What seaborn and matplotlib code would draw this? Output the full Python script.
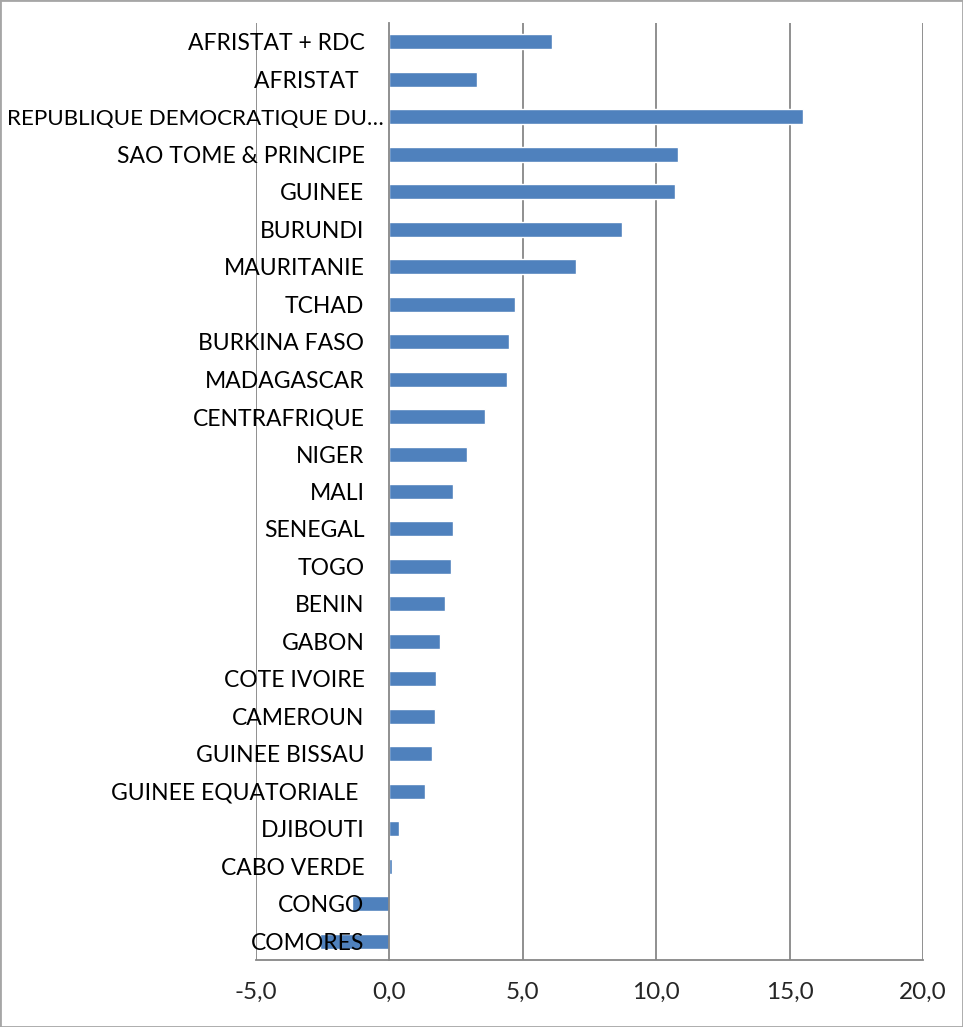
import numpy as np
import pandas as pd
import matplotlib
matplotlib.use("Agg")
import matplotlib.pyplot as plt
import seaborn as sns
from matplotlib.ticker import FixedLocator, FuncFormatter
from matplotlib.patches import Rectangle
from matplotlib.transforms import ScaledTranslation

# data (top to bottom)
pays = ["AFRISTAT + RDC", "AFRISTAT ", "REPUBLIQUE DEMOCRATIQUE DU…",
        "SAO TOME & PRINCIPE", "GUINEE", "BURUNDI", "MAURITANIE", "TCHAD",
        "BURKINA FASO", "MADAGASCAR", "CENTRAFRIQUE", "NIGER", "MALI",
        "SENEGAL", "TOGO", "BENIN", "GABON", "COTE IVOIRE", "CAMEROUN",
        "GUINEE BISSAU", "GUINEE EQUATORIALE ", "DJIBOUTI", "CABO VERDE",
        "CONGO", "COMORES"]
valeurs = [6.1, 3.3, 15.5, 10.8, 10.7, 8.7, 7.0, 4.7,
           4.5, 4.4, 3.6, 2.9, 2.4,
           2.4, 2.3, 2.1, 1.9, 1.75, 1.7,
           1.6, 1.35, 0.35, 0.1,
           -1.4, -2.6]
x_ticks = [-5, 0, 5, 10, 15, 20]

df = pd.DataFrame({"pays": pays, "valeur": valeurs})

sns.set_style("white")
plt.rcParams["font.family"] = ["Lato", "DejaVu Sans"]

grey = "#878787"
fig = plt.figure(figsize=(9.63, 10.27), dpi=100)
ax = fig.add_axes([256 / 963, 67 / 1027, 667 / 963, 937 / 1027])

# gridlines behind the bars
for t in x_ticks:
    if t != 0:
        ax.axvline(t, color=grey, lw=1.3, zorder=0)

sns.barplot(data=df, x="valeur", y="pays", orient="h", color="#4F81BD",
            saturation=1, width=0.4, ax=ax, zorder=1)
# category labels sit on top of the bars
ax.set_axisbelow(False)

ax.set_xlim(-5, 20)
ax.set_ylim(len(pays) - 0.5, -0.5)
ax.xaxis.set_major_locator(FixedLocator(x_ticks))
ax.xaxis.set_major_formatter(FuncFormatter(lambda v, p: f"{v:.1f}".replace(".", ",")))
ax.set_xlabel("")
ax.set_ylabel("")

for s in ["top", "right"]:
    ax.spines[s].set_visible(False)
ax.spines["left"].set_position(("data", 0))
for s in ["left", "bottom"]:
    ax.spines[s].set_color(grey)
    ax.spines[s].set_linewidth(1.3)

ax.yaxis.set_minor_locator(FixedLocator(np.arange(-0.5, len(pays), 1.0)))
ax.tick_params(axis="y", which="major", length=0, pad=18, labelsize=16.5,
               labelcolor="black")
ax.tick_params(axis="y", which="minor", length=5, width=1.3, color=grey,
               direction="out")
ax.tick_params(axis="x", which="major", length=6, width=1.3, color=grey,
               direction="out", pad=10, labelsize=17.5)

# the truncated label sits closer to the axis, as in the original
lab = ax.get_yticklabels()[2]
lab.set_fontsize(16.1)
lab.set_transform(lab.get_transform() + ScaledTranslation(14 / 72, 0, fig.dpi_scale_trans))

fig.patches.append(Rectangle((0, 0), 1, 1, transform=fig.transFigure,
                             fill=False, edgecolor="#A6A6A6", lw=2))

fig.savefig("out.png", dpi=100)
